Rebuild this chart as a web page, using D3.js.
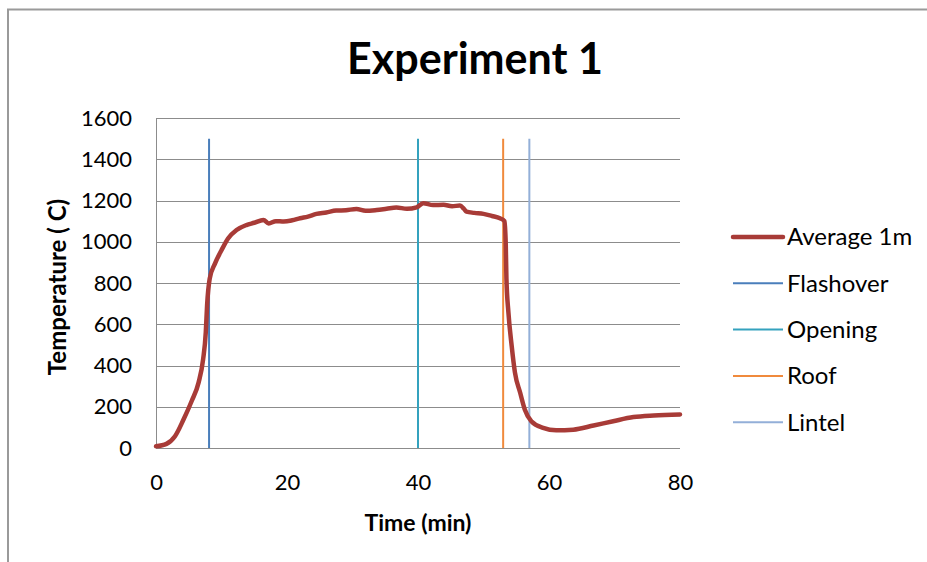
<!DOCTYPE html>
<html>
<head>
<meta charset="utf-8">
<script src="https://cdn.jsdelivr.net/npm/d3@7/dist/d3.min.js"></script>
<style>
  html, body { margin: 0; padding: 0; background: #fff; }
  svg { display: block; }
  text { font-family: Lato, "Open Sans", sans-serif; fill: #000; }
</style>
</head>
<body>
<svg id="chart" width="927" height="562"></svg>
<script>
// ---- data ----
const timeMin = [0, 1.6, 2.9, 4.2, 5.45, 6.5, 7.2, 7.6, 7.8, 8.2, 9.0, 10.0, 11.0, 12.3, 13.8, 15.0, 16.4, 17.2, 18.3, 19.5, 20.8, 22.0, 23.2, 24.5, 26.0, 27.5, 29.0, 30.6, 32.0, 33.7, 35.2, 36.7, 38.3, 39.8, 40.8, 42.3, 43.9, 45.2, 46.4, 47.0, 47.4, 48.6, 50.0, 51.3, 52.5, 53.2, 53.4, 53.5, 53.8, 54.3, 54.8, 55.6, 56.3, 57.3, 59.1, 61.1, 63.7, 66.8, 69.8, 72.9, 76.0, 80.0];
const avgTemp = [8, 20, 57, 138, 228, 317, 431, 561, 691, 821, 894, 959, 1016, 1057, 1081, 1092, 1106, 1089, 1100, 1098, 1104, 1114, 1122, 1135, 1142, 1151, 1153, 1159, 1150, 1154, 1160, 1166, 1160, 1167, 1187, 1178, 1179, 1172, 1176, 1160, 1146, 1140, 1135, 1125, 1114, 1100, 984, 821, 659, 496, 366, 268, 187, 130, 98, 86, 89, 109, 130, 150, 158, 163];
const eventNames = ["Flashover", "Opening", "Roof", "Lintel"];
const eventTimes = [8.1, 40.0, 53.0, 57.0];
const eventTop = 1500;
const yTicks = [0, 200, 400, 600, 800, 1000, 1200, 1400, 1600];
const xTicks = [0, 20, 40, 60, 80];
const legendNames = ["Average 1m", "Flashover", "Opening", "Roof", "Lintel"];

// ---- styles ----
const colors = {
  "Average 1m": "#A83B37",
  "Flashover": "#4A7EBB",
  "Opening": "#34A2BE",
  "Roof": "#F08A3C",
  "Lintel": "#93AFD8"
};

const svg = d3.select("#chart");
const W = 927, H = 562;

// frame
svg.append("path")
  .attr("d", `M8,${H} L8,9.5 L${W},9.5`)
  .attr("fill", "none").attr("stroke", "#9a9a9a").attr("stroke-width", 2);

const x = d3.scaleLinear().domain([0, 80]).range([156, 680]);
const y = d3.scaleLinear().domain([0, 1600]).range([448, 118]);

// gridlines
svg.append("g").selectAll("line").data(yTicks).join("line")
  .attr("x1", 156).attr("x2", 680)
  .attr("y1", d => Math.round(y(d)) + 0.5).attr("y2", d => Math.round(y(d)) + 0.5)
  .attr("stroke", "#8c8c8c").attr("stroke-width", 1);

// y axis line
svg.append("line").attr("x1", 156.5).attr("x2", 156.5).attr("y1", y(1600)).attr("y2", y(0))
  .attr("stroke", "#8c8c8c").attr("stroke-width", 1);

// y tick labels
const yAxis = d3.axisLeft(y).tickValues(yTicks).tickFormat(d3.format("d")).tickSize(0).tickPadding(24);
const gy = svg.append("g").attr("transform", "translate(156,0)").call(yAxis);
gy.select(".domain").remove();
gy.selectAll("text").style("font-family", "Lato, sans-serif").style("font-size", "22px").attr("fill", "#000");

// x tick labels
const xAxis = d3.axisBottom(x).tickValues(xTicks).tickFormat(d3.format("d")).tickSize(0).tickPadding(26);
const gx = svg.append("g").attr("transform", "translate(0,448)").call(xAxis);
gx.select(".domain").remove();
gx.selectAll("text").style("font-family", "Lato, sans-serif").style("font-size", "22px").attr("fill", "#000");

// event lines
svg.append("g").selectAll("line").data(eventNames).join("line")
  .attr("x1", (d, i) => x(eventTimes[i])).attr("x2", (d, i) => x(eventTimes[i]))
  .attr("y1", y(eventTop)).attr("y2", y(0))
  .attr("stroke", d => colors[d]).attr("stroke-width", 2);

// main curve
const pts = timeMin.map((t, i) => [t, avgTemp[i]]);
svg.append("path").datum(pts)
  .attr("fill", "none").attr("stroke", colors["Average 1m"]).attr("stroke-width", 4.5)
  .attr("stroke-linejoin", "round").attr("stroke-linecap", "round")
  .attr("d", d3.line().x(d => x(d[0])).y(d => y(d[1])).curve(d3.curveMonotoneX));

// title
svg.append("text").attr("x", 475).attr("y", 74).attr("text-anchor", "middle")
  .style("font-weight", "bold").style("font-size", "43px").text("Experiment 1");

// axis titles
svg.append("text").attr("x", 418).attr("y", 531).attr("text-anchor", "middle")
  .style("font-weight", "bold").style("font-size", "23px").text("Time (min)");
svg.append("text").attr("transform", "translate(66,287) rotate(-90)").attr("text-anchor", "middle")
  .style("font-weight", "bold").style("font-size", "24px").text("Temperature ( C)");

// legend
const leg = svg.append("g").selectAll("g").data(legendNames).join("g")
  .attr("transform", (d, i) => `translate(733,${237 + i * 46.3})`);
leg.append("line").attr("x1", 0).attr("x2", 50).attr("y1", 0).attr("y2", 0)
  .attr("stroke", d => colors[d]).attr("stroke-width", (d, i) => i === 0 ? 4.5 : 2)
  .attr("stroke-linecap", (d, i) => i === 0 ? "round" : "butt");
leg.append("text").attr("x", 54).attr("y", 0).attr("dy", "0.35em")
  .style("font-size", "24px").text(d => d);
</script>
</body>
</html>
